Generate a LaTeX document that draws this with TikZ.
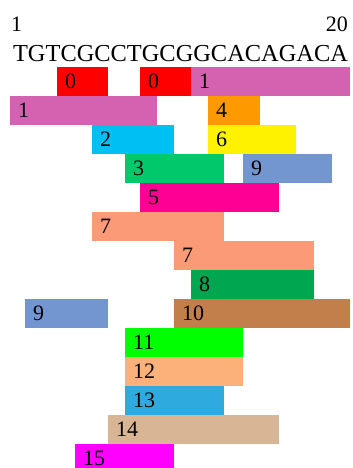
\documentclass[tikz,border=0pt]{standalone}
\usepackage{fontspec}
\setmainfont{Liberation Serif}
\definecolor{cRed}{HTML}{FF0000}
\definecolor{cPink}{HTML}{D462B0}
\definecolor{cOrange}{HTML}{FF9900}
\definecolor{cSky}{HTML}{00BFF3}
\definecolor{cYellow}{HTML}{FFF200}
\definecolor{cGreen}{HTML}{00C86B}
\definecolor{cSlate}{HTML}{7396D1}
\definecolor{cRose}{HTML}{FF0095}
\definecolor{cSalmon}{HTML}{FB9A77}
\definecolor{cDGreen}{HTML}{00A650}
\definecolor{cBrown}{HTML}{C37F4B}
\definecolor{cLime}{HTML}{00FF00}
\definecolor{cPeach}{HTML}{FCB07A}
\definecolor{cBlue}{HTML}{2EAADF}
\definecolor{cTan}{HTML}{D8B595}
\definecolor{cMag}{HTML}{FF00FF}
\tikzset{
  segbox/.style={rectangle, draw=none, inner sep=0pt, minimum height=29pt, anchor=north west},
  seglabel/.style={inner sep=0pt, anchor=west, font=\fontsize{22}{26}\selectfont},
  seqtext/.style={inner sep=0pt, font=\fontsize{24.4}{28}\selectfont},
  endnum/.style={inner sep=0pt, font=\fontsize{22}{26}\selectfont}
}
\newcommand\seg[6]{%
  \node[segbox, fill=#5, minimum width={#3-#2}] (#1) at (#2,#4) {};
  \node[seglabel] (#1l) at ([xshift=8pt]#1.west) {#6};
}
\begin{document}
\begin{tikzpicture}[x=1pt,y=-1pt]
\useasboundingbox (0,0) rectangle (353,468);
\node[endnum, anchor=base west] (n1) at (11,32) {1};
\node[endnum, anchor=base east] (n20) at (348,32) {20};
\node[seqtext, anchor=base] (seq) at (180.5,62) {TGTCGCCTGCGGCACAGACA};
% row 1
\seg{a1}{57}{108}{67}{cRed}{0}
\seg{a2}{140}{191}{67}{cRed}{0}
\seg{a3}{191}{350}{67}{cPink}{1}
% row 2
\seg{b1}{10}{157}{96}{cPink}{1}
\seg{b2}{208}{260}{96}{cOrange}{4}
% row 3
\seg{c1}{92}{174}{125}{cSky}{2}
\seg{c2}{208}{296}{125}{cYellow}{6}
% row 4
\seg{d1}{125}{224}{154}{cGreen}{3}
\seg{d2}{243}{332}{154}{cSlate}{9}
% row 5
\seg{e1}{140}{279}{183}{cRose}{5}
% row 6
\seg{f1}{92}{224}{212}{cSalmon}{7}
% row 7
\seg{g1}{174}{314}{241}{cSalmon}{7}
% row 8
\seg{h1}{191}{314}{270}{cDGreen}{8}
% row 9
\seg{i1}{25}{108}{299}{cSlate}{9}
\seg{i2}{174}{350}{299}{cBrown}{10}
% row 10
\seg{j1}{125}{243}{328}{cLime}{11}
% row 11
\seg{k1}{125}{243}{357}{cPeach}{12}
% row 12
\seg{l1}{125}{224}{386}{cBlue}{13}
% row 13
\seg{m1}{108}{279}{415}{cTan}{14}
% row 14
\seg{n1b}{75}{174}{444}{cMag}{15}
\end{tikzpicture}
\end{document}
